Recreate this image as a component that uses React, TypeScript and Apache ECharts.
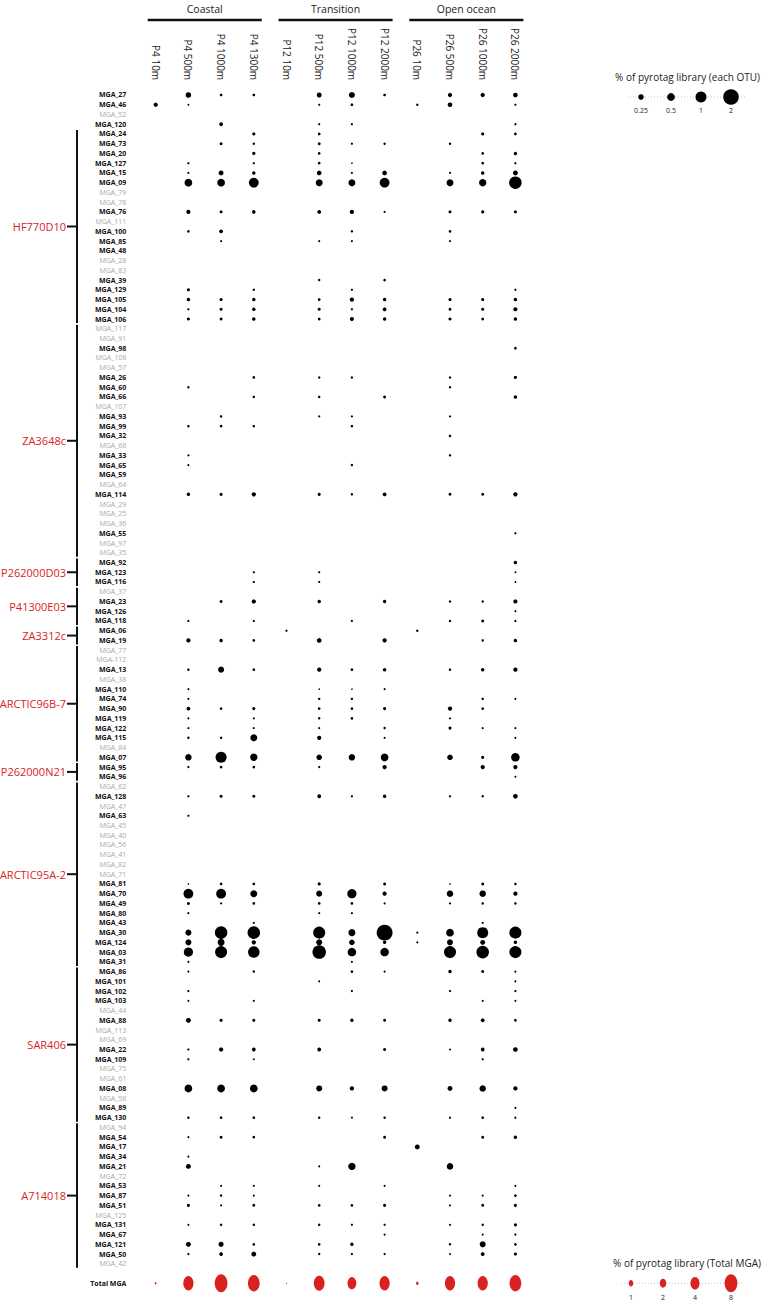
import React, { useEffect, useRef } from 'react';
import * as echarts from 'echarts';

const stations = ['P4 10m', 'P4 500m', 'P4 1000m', 'P4 1300m', 'P12 10m', 'P12 500m', 'P12 1000m', 'P12 2000m', 'P26 10m', 'P26 500m', 'P26 1000m', 'P26 2000m'];
const regions = ['Coastal', 'Transition', 'Open ocean'];
const regionFirst = ['P4 10m', 'P12 10m', 'P26 10m'];
const regionLast = ['P4 1300m', 'P12 2000m', 'P26 2000m'];

const otuNames = [
  'MGA_27', 'MGA_46', 'MGA_52', 'MGA_120', 'MGA_24', 'MGA_73', 'MGA_20', 'MGA_127', 'MGA_15', 'MGA_09', 'MGA_79', 'MGA_78',
  'MGA_76', 'MGA_111', 'MGA_100', 'MGA_85', 'MGA_48', 'MGA_28', 'MGA_83', 'MGA_39', 'MGA_129', 'MGA_105', 'MGA_104', 'MGA_106',
  'MGA_117', 'MGA_91', 'MGA_98', 'MGA_108', 'MGA_57', 'MGA_26', 'MGA_60', 'MGA_66', 'MGA_107', 'MGA_93', 'MGA_99', 'MGA_32',
  'MGA_68', 'MGA_33', 'MGA_65', 'MGA_59', 'MGA_64', 'MGA_114', 'MGA_29', 'MGA_25', 'MGA_36', 'MGA_55', 'MGA_97', 'MGA_35',
  'MGA_92', 'MGA_123', 'MGA_116', 'MGA_37', 'MGA_23', 'MGA_126', 'MGA_118', 'MGA_06', 'MGA_19', 'MGA_77', 'MGA-112', 'MGA_13',
  'MGA_38', 'MGA_110', 'MGA_74', 'MGA_90', 'MGA_119', 'MGA_122', 'MGA_115', 'MGA_84', 'MGA_07', 'MGA_95', 'MGA_96',
  'MGA_62', 'MGA_128', 'MGA_47', 'MGA_63', 'MGA_45', 'MGA_40', 'MGA_56', 'MGA_41', 'MGA_82', 'MGA_71', 'MGA_81', 'MGA_70',
  'MGA_49', 'MGA_80', 'MGA_43', 'MGA_30', 'MGA_124', 'MGA_03', 'MGA_31', 'MGA_86', 'MGA_101', 'MGA_102', 'MGA_103',
  'MGA_44', 'MGA_88', 'MGA_113', 'MGA_69', 'MGA_22', 'MGA_109', 'MGA_75', 'MGA_61', 'MGA_08', 'MGA_58', 'MGA_89', 'MGA_130',
  'MGA_94', 'MGA_54', 'MGA_17', 'MGA_34', 'MGA_21', 'MGA_72', 'MGA_53', 'MGA_87', 'MGA_51', 'MGA_125', 'MGA_131', 'MGA_67',
  'MGA_121', 'MGA_50', 'MGA_42',
];

const absentOtus = [
  'MGA_52', 'MGA_79', 'MGA_78', 'MGA_111', 'MGA_28', 'MGA_83', 'MGA_117', 'MGA_91', 'MGA_108', 'MGA_57', 'MGA_107', 'MGA_68',
  'MGA_64', 'MGA_29', 'MGA_25', 'MGA_36', 'MGA_97', 'MGA_35', 'MGA_37', 'MGA_77', 'MGA-112', 'MGA_38', 'MGA_84', 'MGA_62',
  'MGA_47', 'MGA_45', 'MGA_40', 'MGA_56', 'MGA_41', 'MGA_82', 'MGA_71', 'MGA_44', 'MGA_113', 'MGA_69', 'MGA_75', 'MGA_61',
  'MGA_58', 'MGA_94', 'MGA_72', 'MGA_125', 'MGA_42',
];

const Z = [0, 0, 0, 0, 0, 0, 0, 0, 0, 0, 0, 0];
// % of pyrotag library per OTU, one row per otuNames entry, columns follow stations
const otuValues = [
  [0, .25, .06, .06, 0, .2, .3, .06, 0, .15, .15, .18],
  [.15, .03, 0, 0, 0, .04, .06, 0, .05, .18, 0, .04],
  Z,
  [0, 0, .12, 0, 0, .04, .04, 0, 0, 0, 0, .04],
  [0, 0, 0, .08, 0, .06, 0, 0, 0, 0, .08, .06],
  [0, 0, .07, .05, 0, .07, .04, .05, 0, .05, 0, 0],
  [0, 0, 0, .09, 0, .06, 0, 0, 0, 0, .06, .1],
  [0, .04, 0, .04, 0, .06, .02, 0, 0, 0, .06, .04],
  [0, .04, .2, .1, 0, .18, .04, .18, 0, .04, .1, .2],
  [0, .5, .5, .8, 0, .4, .4, .8, 0, .4, .45, 1.3],
  Z,
  Z,
  [0, .15, .07, .1, 0, .12, .15, .04, 0, .07, .08, .07],
  Z,
  [0, .06, .12, 0, 0, 0, .05, 0, 0, .06, 0, 0],
  [0, 0, .04, 0, 0, .04, .04, 0, 0, .04, 0, 0],
  Z,
  Z,
  Z,
  [0, 0, 0, 0, 0, .05, 0, .06, 0, 0, 0, 0],
  [0, .08, 0, .05, 0, 0, .04, 0, 0, 0, 0, .04],
  [0, .1, .08, .1, 0, .06, .15, .1, 0, .08, .08, .1],
  [0, .04, .08, .1, 0, .08, .04, .12, 0, .07, .08, .14],
  [0, .08, .07, .1, 0, .06, .14, .1, 0, .08, .06, .1],
  Z,
  Z,
  [0, 0, 0, 0, 0, 0, 0, 0, 0, 0, 0, .06],
  Z,
  Z,
  [0, 0, 0, .06, 0, .05, .05, 0, 0, .05, 0, .08],
  [0, .05, 0, 0, 0, 0, 0, 0, 0, .05, 0, 0],
  [0, 0, 0, .05, 0, .05, 0, .07, 0, 0, 0, .1],
  Z,
  [0, 0, .05, 0, 0, .04, .04, 0, 0, .04, 0, 0],
  [0, .05, .06, .05, 0, 0, .05, 0, 0, 0, 0, 0],
  [0, 0, 0, 0, 0, 0, 0, 0, 0, .05, 0, 0],
  Z,
  [0, .04, 0, 0, 0, 0, 0, 0, 0, .05, 0, 0],
  [0, .04, 0, 0, 0, 0, .05, 0, 0, 0, 0, 0],
  Z,
  Z,
  [0, .1, .08, .15, 0, .08, .05, .12, 0, .07, .07, .15],
  Z,
  Z,
  Z,
  [0, 0, 0, 0, 0, 0, 0, 0, 0, 0, 0, .04],
  Z,
  Z,
  [0, 0, 0, 0, 0, 0, 0, 0, 0, 0, 0, .1],
  [0, 0, 0, .04, 0, .04, 0, 0, 0, 0, 0, .03],
  [0, 0, 0, .04, 0, .04, 0, 0, 0, 0, 0, .03],
  Z,
  [0, 0, .07, .15, 0, .1, 0, .09, 0, .05, .05, .15],
  [0, 0, 0, 0, 0, 0, 0, 0, 0, 0, 0, .03],
  [0, .04, 0, .04, 0, 0, .04, 0, 0, .05, .07, .04],
  [0, 0, 0, 0, .04, 0, 0, 0, .05, 0, 0, 0],
  [0, .15, .1, .06, 0, .18, 0, .15, 0, 0, .05, .1],
  Z,
  Z,
  [0, .05, .3, .06, 0, .15, .06, .1, 0, .05, .1, .15],
  Z,
  [0, .03, 0, 0, 0, .02, .02, .03, 0, 0, 0, 0],
  [0, .04, 0, 0, 0, .05, .05, 0, 0, 0, .05, .04],
  [0, .12, .06, .08, 0, .06, .06, .08, 0, .15, .06, 0],
  [0, .04, 0, .03, 0, .05, .06, 0, 0, .04, 0, 0],
  [0, .04, 0, .04, 0, .04, 0, .05, 0, .08, .04, .04],
  [0, .05, .05, .4, 0, .15, 0, .04, 0, 0, 0, .03],
  Z,
  [0, .35, 1.0, .45, 0, .25, .35, .5, 0, .25, .08, .6],
  [0, .04, .06, .06, 0, .04, 0, .15, 0, 0, .15, .15],
  [0, 0, 0, 0, 0, 0, 0, 0, 0, 0, 0, .03],
  Z,
  [0, .04, .08, .08, 0, .12, .04, .1, 0, .04, .05, .18],
  Z,
  [0, .04, 0, 0, 0, 0, 0, 0, 0, 0, 0, 0],
  Z,
  Z,
  Z,
  Z,
  Z,
  Z,
  [0, .02, .06, .06, 0, .08, 0, .07, 0, .02, .07, .05],
  [0, .8, .8, .4, 0, .3, .7, .15, 0, .35, .35, .15],
  [0, .07, .04, .06, 0, .06, .06, .03, 0, .04, .05, .05],
  [0, .04, 0, 0, 0, .04, .04, 0, 0, 0, 0, 0],
  [0, 0, 0, .04, 0, 0, 0, 0, 0, 0, .04, 0],
  [0, .3, 1.3, 1.3, 0, 1.2, .4, 2.1, .04, .5, 1.0, 1.2],
  [0, .3, .4, .15, 0, .3, .25, .1, .03, .3, .2, .1],
  [0, .7, 1.2, 1.1, 0, 1.5, .6, .6, 0, 1.2, 1.3, 1.2],
  [0, .04, 0, 0, 0, 0, .04, 0, 0, 0, 0, 0],
  [0, .03, 0, .05, 0, 0, .06, .04, 0, .1, .07, .04],
  [0, 0, 0, 0, 0, .03, 0, 0, 0, 0, 0, .03],
  [0, .04, 0, 0, 0, 0, .04, 0, 0, .04, 0, .04],
  [0, .03, 0, .03, 0, 0, 0, 0, 0, 0, .03, .03],
  Z,
  [0, .2, .08, .08, 0, .08, .1, .07, 0, .1, .12, .06],
  Z,
  Z,
  [0, .04, .15, .12, 0, .12, 0, .08, 0, .03, .12, .18],
  [0, .04, 0, .03, 0, 0, 0, 0, 0, 0, .04, 0],
  Z,
  Z,
  [0, .5, .5, .5, 0, .3, .15, .3, 0, .2, .35, .15],
  Z,
  [0, 0, 0, 0, 0, 0, 0, 0, 0, 0, 0, .03],
  [0, .05, .06, .06, 0, .05, .03, .05, 0, .04, .06, .04],
  Z,
  [0, .03, .07, .06, 0, 0, 0, .07, 0, 0, .07, .1],
  [0, 0, 0, 0, 0, 0, 0, 0, .2, 0, 0, 0],
  [0, .03, 0, 0, 0, 0, 0, 0, 0, 0, 0, 0],
  [0, .2, 0, 0, 0, .03, .45, 0, 0, .35, 0, 0],
  Z,
  [0, 0, .04, .03, 0, .04, 0, .03, 0, 0, 0, .03],
  [0, .03, .05, .04, 0, 0, 0, 0, 0, .04, .04, .06],
  [0, .08, .04, .07, 0, .06, .06, .08, 0, .03, .07, .08],
  Z,
  [0, .03, .05, .05, 0, .05, .04, .04, 0, .03, .05, .08],
  [0, 0, 0, 0, 0, 0, 0, .03, 0, 0, .03, .04],
  [0, .2, .22, .06, 0, .06, .1, 0, 0, .05, .3, .06],
  [0, .04, .12, .2, 0, .05, .04, .04, 0, .03, .12, .08],
  Z,
];

const totalLabel = 'Total MGA';
const totalMga = [0.15, 5.2, 8, 6.8, 0.05, 5.7, 3.8, 5.2, 0.32, 5.2, 5.2, 6.8];

const cladeNames = ['HF770D10', 'ZA3648c', 'P262000D03', 'P41300E03', 'ZA3312c', 'ARCTIC96B-7', 'P262000N21', 'ARCTIC95A-2', 'SAR406', 'A714018'];
const cladeFirst = ['MGA_24', 'MGA_117', 'MGA_92', 'MGA_37', 'MGA_06', 'MGA_77', 'MGA_95', 'MGA_62', 'MGA_86', 'MGA_94'];
const cladeLast = ['MGA_106', 'MGA_35', 'MGA_116', 'MGA_118', 'MGA_19', 'MGA_07', 'MGA_96', 'MGA_31', 'MGA_130', 'MGA_42'];

const otuLegendValues = [0.25, 0.5, 1, 2];
const otuLegendLabels = ['0.25', '0.5', '1', '2'];
const totalLegendValues = [1, 2, 4, 8];
const totalLegendLabels = ['1', '2', '4', '8'];

const FONT = '"Open Sans", "Noto Sans", sans-serif';
const RED = '#d9221f';
const otuDiameter = (v: number) => 11 * Math.sqrt(v);
const totalW = (v: number) => 4.5 * Math.sqrt(v);
const totalH = (v: number) => 1.4 * totalW(v);

export default function App() {
  const ref = useRef<HTMLDivElement>(null);
  useEffect(() => {
    document.body.style.margin = '0';
    document.body.style.overflow = 'hidden';
    const chart = echarts.init(ref.current!, null, { renderer: 'svg' });
    const yCats = [...otuNames, '', totalLabel];
    const totalRow = yCats.length - 1;
    const absentSet = new Set(absentOtus);

    const dots: number[][] = [];
    otuValues.forEach((row, r) => {
      row.forEach((v, c) => {
        if (v > 0) dots.push([c, r, v]);
      });
    });
    const totals = totalMga.map((v, c) => [c, totalRow, v]);

    chart.setOption({
      animation: false,
      grid: { left: 139.35, right: 230.25, top: 90.13, bottom: 14.87 },
      xAxis: {
        type: 'category',
        data: stations,
        position: 'top',
        axisLine: { show: false },
        axisTick: { show: false },
        splitLine: { show: false },
        axisLabel: { rotate: 90, margin: 10, fontSize: 10, color: '#222', fontFamily: FONT, interval: 0 },
      },
      yAxis: {
        type: 'category',
        data: yCats,
        inverse: true,
        axisLine: { show: false },
        axisTick: { show: false },
        splitLine: { show: false },
        axisLabel: {
          interval: 0,
          margin: 13,
          formatter: (v: string) => (v === '' ? '' : absentSet.has(v) ? `{g|${v}}` : `{b|${v}}`),
          rich: {
            g: { color: '#a9a9a9', fontSize: 7, fontFamily: FONT },
            b: { color: '#111', fontSize: 7, fontWeight: 'bold', fontFamily: FONT },
          },
        },
      },
      series: [
        {
          type: 'scatter',
          data: dots,
          symbol: 'circle',
          symbolSize: (d: number[]) => otuDiameter(d[2]),
          itemStyle: { color: '#000', opacity: 1 },
          silent: true,
        },
        {
          type: 'scatter',
          data: totals,
          symbol: 'circle',
          symbolSize: (d: number[]) => [totalW(d[2]), totalH(d[2])],
          itemStyle: { color: RED, opacity: 1 },
          silent: true,
        },
      ],
    });

    const px = (s: string) => chart.convertToPixel({ xAxisIndex: 0 }, s) as number;
    const py = (s: string) => chart.convertToPixel({ yAxisIndex: 0 }, s) as number;
    const half = 9.74 / 2;
    const g: any[] = [];

    regions.forEach((name, i) => {
      const x1 = px(regionFirst[i]) - 8;
      const x2 = px(regionLast[i]) + 8;
      g.push({ type: 'text', x: (x1 + x2) / 2, y: 9, style: { text: name, fill: '#222', fontSize: 10.5, fontFamily: FONT, align: 'center', verticalAlign: 'middle' } });
      g.push({ type: 'line', shape: { x1, y1: 20, x2, y2: 20 }, style: { stroke: '#111', lineWidth: 2.5 } });
    });

    const bx = 77;
    cladeNames.forEach((name, i) => {
      const y1 = py(cladeFirst[i]) - half + 0.8;
      const y2 = py(cladeLast[i]) + half - 0.8;
      const ym = (y1 + y2) / 2;
      g.push({ type: 'line', shape: { x1: bx, y1, x2: bx, y2 }, style: { stroke: '#111', lineWidth: 2 } });
      g.push({ type: 'line', shape: { x1: 67, y1: ym, x2: bx, y2: ym }, style: { stroke: '#111', lineWidth: 2 } });
      g.push({ type: 'text', x: 66, y: ym, style: { text: name, fill: RED, fontSize: 11, fontFamily: FONT, align: 'right', verticalAlign: 'middle' } });
    });

    // legend: each OTU
    const lx = [641, 671, 701, 731];
    const ly = 97;
    g.push({ type: 'text', x: 760, y: 77, style: { text: '% of pyrotag library (each OTU)', fill: '#222', fontSize: 10, fontFamily: FONT, align: 'right', verticalAlign: 'middle' } });
    g.push({ type: 'line', shape: { x1: lx[0] - 14, y1: ly, x2: lx[3] + 14, y2: ly }, style: { stroke: '#bbb', lineWidth: 0.8, lineDash: [1, 2] } });
    otuLegendValues.forEach((v, i) => {
      g.push({ type: 'circle', shape: { cx: lx[i], cy: ly, r: otuDiameter(v) / 2 }, style: { fill: '#000' } });
      g.push({ type: 'text', x: lx[i], y: 110, style: { text: otuLegendLabels[i], fill: '#222', fontSize: 7, fontFamily: FONT, align: 'center', verticalAlign: 'middle' } });
    });

    // legend: total MGA
    const tx = [631, 663, 695, 731];
    const ty = py(totalLabel);
    g.push({ type: 'text', x: 761, y: 1263, style: { text: '% of pyrotag library (Total MGA)', fill: '#222', fontSize: 10, fontFamily: FONT, align: 'right', verticalAlign: 'middle' } });
    g.push({ type: 'line', shape: { x1: tx[0] - 10, y1: ty, x2: tx[3] + 12, y2: ty }, style: { stroke: '#bbb', lineWidth: 0.8, lineDash: [1, 2] } });
    totalLegendValues.forEach((v, i) => {
      g.push({ type: 'ellipse', shape: { cx: tx[i], cy: ty, rx: totalW(v) / 2, ry: totalH(v) / 2 }, style: { fill: RED } });
      g.push({ type: 'text', x: tx[i], y: 1297, style: { text: totalLegendLabels[i], fill: '#222', fontSize: 7, fontFamily: FONT, align: 'center', verticalAlign: 'middle' } });
    });

    chart.setOption({ graphic: g });
    return () => chart.dispose();
  }, []);
  return <div ref={ref} style={{ width: 762, height: 1303 }} />;
}
